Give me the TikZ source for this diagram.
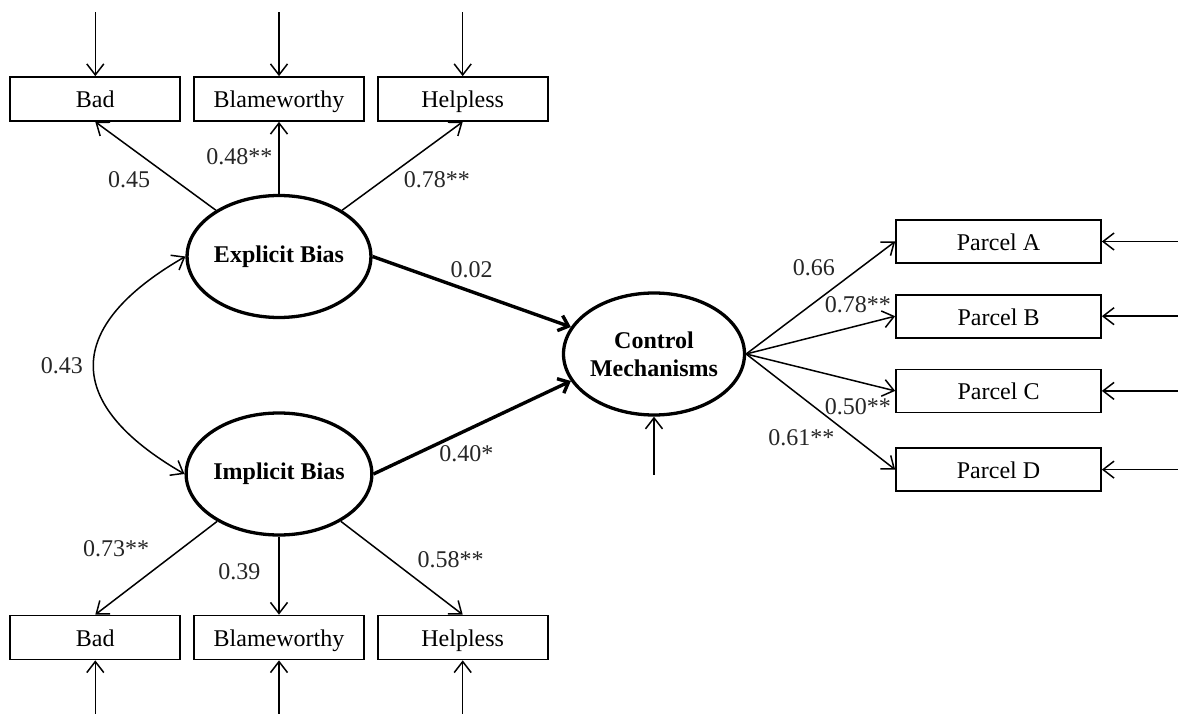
\documentclass[tikz,border=0pt]{standalone}
\usepackage{fontspec}
\setmainfont{Liberation Serif}
\usetikzlibrary{shapes.geometric, arrows.meta, positioning, calc}

\begin{document}
\begin{tikzpicture}[
    x=0.5pt, y=0.5pt,
    >={Straight Barb[length=5.5pt,width=8.5pt]},
    block/.style={rectangle, draw, line width=0.85pt, minimum width=85pt, minimum height=22pt, inner sep=0pt, text height=10.5pt, text depth=1.5pt, font=\fontsize{12}{14}\selectfont},
    parcel/.style={block, minimum width=102.5pt, minimum height=21.5pt},
    latent/.style={ellipse, draw, line width=1.65pt, inner sep=0pt, minimum width=85pt, minimum height=61pt, align=center, font=\fontsize{12}{14}\selectfont\bfseries},
    line/.style={draw, ->, line width=0.75pt},
    effect/.style={draw, -{Straight Barb[length=4.5pt,width=8pt]}, line width=1.7pt},
    coef/.style={font=\fontsize{12}{14}\selectfont, text=black!85, inner sep=1pt}
]
    \useasboundingbox (0,0) rectangle (1178,713);

    % Latent variables
    \node (exp) [latent] at (279,456.5) {Explicit Bias};
    \node (imp) [latent] at (279,239) {Implicit Bias};
    \node (ctrl) [latent, minimum width=86pt] at (654,359) {Control\\Mechanisms};

    % Explicit indicators
    \node (blame1) [block, above=36pt of exp] {Blameworthy};
    \node (bad1) [block, left=6pt of blame1] {Bad};
    \node (help1) [block, right=6pt of blame1] {Helpless};

    % Implicit indicators
    \node (blame2) [block, below=39pt of imp] {Blameworthy};
    \node (bad2) [block, left=6pt of blame2] {Bad};
    \node (help2) [block, right=6pt of blame2] {Helpless};

    % Parcels
    \node (pa) [parcel] at (998.5,471.5) {Parcel A};
    \node (pb) [parcel, below=15pt of pa] {Parcel B};
    \node (pc) [parcel, below=15pt of pb] {Parcel C};
    \node (pd) [parcel, below=17pt of pc] {Parcel D};

    % Error terms
    \foreach \n in {bad1,blame1,help1} {
        \coordinate (e-\n) at ([yshift=32pt]\n.north);
        \path [line] (e-\n) -- (\n.north);
    }
    \foreach \n in {bad2,blame2,help2} {
        \coordinate (e-\n) at ([yshift=-28.5pt]\n.south);
        \path [line] (e-\n) -- (\n.south);
    }
    \foreach \n in {pa,pb,pc,pd} {
        \coordinate (e-\n) at ([xshift=38.5pt]\n.east);
        \path [line] (e-\n) -- (\n.east);
    }
    \coordinate (e-ctrl) at ([yshift=-29pt]ctrl.south);
    \path [line] (e-ctrl) -- (ctrl.south);

    % Loadings
    \path [line] (exp) -- node[coef, pos=0.34, left=11pt] {0.45} (bad1.south);
    \path [line] (exp) -- node[coef, pos=0.52, left=2pt] {0.48**} (blame1.south);
    \path [line] (exp) -- node[coef, pos=0.34, right=9pt] {0.78**} (help1.south);
    \path [line] (imp) -- node[coef, pos=0.29, left=15pt] {0.73**} (bad2.north);
    \path [line] (imp) -- node[coef, pos=0.45, left=8pt] {0.39} (blame2.north);
    \path [line] (imp) -- node[coef, pos=0.41, right=12pt] {0.58**} (help2.north);
    \path [line] (ctrl.east) -- node[coef, pos=0.455, above=12pt] {0.66} (pa.west);
    \path [line] (ctrl.east) -- node[coef, pos=0.75, above=5pt] {0.78**} (pb.west);
    \path [line] (ctrl.east) -- node[coef, pos=0.75, below=7pt] {0.50**} (pc.west);
    \path [line] (ctrl.east) -- node[coef, pos=0.37, below=15pt] {0.61**} (pd.west);

    % Structural paths
    \path [effect] (exp.east) -- node[coef, above=5pt] {0.02} (ctrl.162);
    \path [effect] (imp.east) -- node[coef, pos=0.47, below=6pt] {0.40*} (ctrl.198);

    % Covariance
    \path [line, <->] (exp.west) to[out=-150, in=150, looseness=1.65] node[coef, left=4pt] {0.43} (imp.west);

\end{tikzpicture}
\end{document}
